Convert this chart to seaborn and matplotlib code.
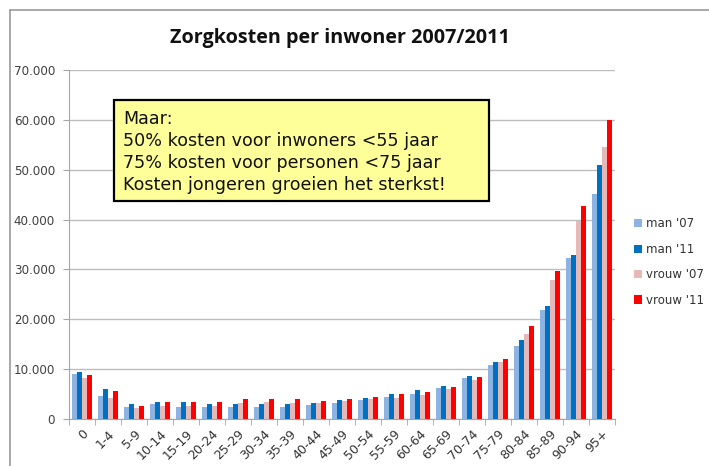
import pandas as pd
import matplotlib.pyplot as plt
import seaborn as sns
from matplotlib.lines import Line2D
from matplotlib.patches import Rectangle
from matplotlib.ticker import FuncFormatter

# age groups and cost per inhabitant
age_groups = ['0', '1-4', '5-9', '10-14', '15-19', '20-24', '25-29', '30-34', '35-39',
              '40-44', '45-49', '50-54', '55-59', '60-64', '65-69', '70-74', '75-79',
              '80-84', '85-89', '90-94', '95+']
man_07 = [9100, 4600, 2500, 3000, 2500, 2400, 2400, 2400, 2500, 2900, 3300, 3800,
          4450, 5100, 6300, 8200, 10900, 14600, 21900, 32300, 45200]
man_11 = [9400, 6050, 3100, 3500, 3400, 3000, 3000, 3000, 3100, 3300, 3800, 4200,
          5000, 5800, 6700, 8600, 11400, 15800, 22700, 32800, 50900]
vrouw_07 = [8300, 4150, 2150, 2550, 2600, 2650, 3150, 3400, 3150, 3150, 3550, 4050,
            4250, 4850, 5950, 7800, 11400, 17000, 27800, 39800, 54500]
vrouw_11 = [8850, 5550, 2550, 3400, 3400, 3400, 3950, 4050, 3950, 3650, 4050, 4450,
            5000, 5400, 6450, 8350, 11950, 18600, 29700, 42700, 60000]

series_names = ["man '07", "man '11", "vrouw '07", "vrouw '11"]
series_colors = ['#8DB3E2', '#0070C0', '#E6B9B8', '#FF0000']
y_ticks = [0, 10000, 20000, 30000, 40000, 50000, 60000, 70000]

note_lines = ['Maar:',
              '50% kosten voor inwoners <55 jaar',
              '75% kosten voor personen <75 jaar',
              'Kosten jongeren groeien het sterkst!']


def build_frame():
    rows = []
    for name, vals in zip(series_names, [man_07, man_11, vrouw_07, vrouw_11]):
        for grp, v in zip(age_groups, vals):
            rows.append({'Leeftijd': grp, 'Serie': name, 'Kosten': v})
    return pd.DataFrame(rows)


def main():
    df = build_frame()
    sns.set_style('white')
    plt.rcParams['font.family'] = ['DejaVu Sans']

    fig = plt.figure(figsize=(7.09, 4.66), dpi=100)
    ax = fig.add_axes([69 / 709, 47 / 466, 546 / 709, 349 / 466])

    sns.barplot(data=df, x='Leeftijd', y='Kosten', hue='Serie', order=age_groups,
                hue_order=series_names, palette=series_colors, width=0.8, gap=0,
                saturation=1, linewidth=0, ax=ax, legend=True)

    ax.set_ylim(0, 70000)
    ax.set_xlim(-0.5, len(age_groups) - 0.5)
    ax.set_yticks(y_ticks)
    ax.yaxis.set_major_formatter(FuncFormatter(lambda v, p: '{:,.0f}'.format(v).replace(',', '.')))
    ax.grid(axis='y', color='#BDBDBD', linewidth=1.0)
    ax.set_axisbelow(True)
    ax.set_xlabel('')
    ax.set_ylabel('')

    for side in ['top', 'right']:
        ax.spines[side].set_visible(False)
    for side in ['left', 'bottom']:
        ax.spines[side].set_color('#A6A6A6')

    # ticks between the groups on the x axis
    ax.set_xticks([i - 0.5 for i in range(len(age_groups) + 1)], minor=True)
    ax.tick_params(axis='x', which='minor', length=4, color='#A6A6A6', bottom=True)
    ax.tick_params(axis='x', which='major', length=0, labelsize=9, labelcolor='#333333', pad=6)
    ax.tick_params(axis='y', length=4, color='#A6A6A6', left=True, labelsize=8.6,
                   labelcolor='#404040', pad=6)
    for lbl in ax.get_xticklabels():
        lbl.set_rotation(45)
        lbl.set_ha('right')
        lbl.set_rotation_mode('anchor')

    fig.text(340 / 709, 1 - 38 / 466, 'Zorgkosten per inwoner 2007/2011', ha='center',
             va='center', fontsize=14.2, fontweight='bold', family='Open Sans', color='#111111')

    leg = ax.legend(loc='center left', bbox_to_anchor=(634 / 709, 1 - 262 / 466),
                    bbox_transform=fig.transFigure, frameon=False, fontsize=8.5,
                    borderpad=0, borderaxespad=0,
                    handlelength=0.7, handleheight=0.7, handletextpad=0.35, labelspacing=1.05)
    for t in leg.get_texts():
        t.set_color('#333333')

    # yellow note box
    fig.add_artist(Rectangle((114 / 709, 1 - 201 / 466), 375 / 709, 101 / 466,
                             transform=fig.transFigure, facecolor='#FFFF99',
                             edgecolor='black', linewidth=1.6, zorder=5))
    fig.text(123 / 709, 1 - 152 / 466, '\n'.join(note_lines), ha='left', va='center',
             fontsize=12.6, linespacing=1.3, color='#111111', zorder=6)

    # outer frame of the slide
    fig.add_artist(Line2D([10 / 709, 1], [1 - 10 / 466, 1 - 10 / 466], color='#999999', linewidth=1.2))
    fig.add_artist(Line2D([10 / 709, 10 / 709], [0, 1 - 10 / 466], color='#999999', linewidth=1.2))

    fig.savefig('out.png', dpi=100)
    plt.close(fig)


if __name__ == '__main__':
    main()
